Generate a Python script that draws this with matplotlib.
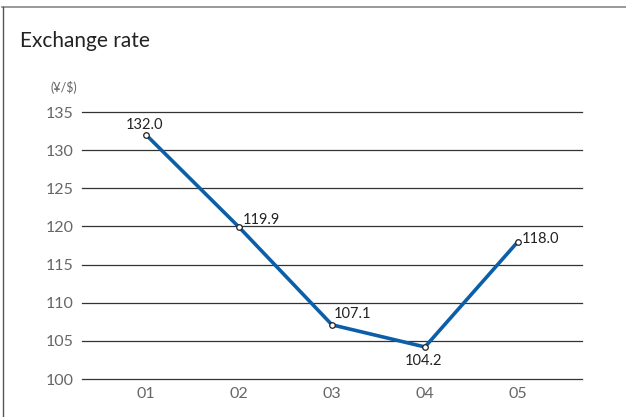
import matplotlib
matplotlib.use("Agg")
import matplotlib.pyplot as plt
from matplotlib.lines import Line2D

years = ["01", "02", "03", "04", "05"]
rates = [132.0, 119.9, 107.1, 104.2, 118.0]
yticks = [100, 105, 110, 115, 120, 125, 130, 135]

plt.rcParams["font.family"] = ["Lato", "DejaVu Sans"]

fig = plt.figure(figsize=(6.26, 4.17), dpi=100)
ax = fig.add_axes([82 / 626, 1 - 379 / 417, 500 / 626, 267 / 417])

x = list(range(len(years)))
ax.plot(x, rates, color="#0b5ea8", lw=2.6, zorder=3, solid_joinstyle="miter")
ax.plot(x, rates, ls="none", marker="o", ms=4, mfc="white", mec="#222222",
        mew=0.9, zorder=4)

ax.set_xlim(-0.69, 4.69)
ax.set_ylim(100, 135)
ax.set_yticks(yticks)
ax.set_xticks(x)
ax.set_xticklabels(years)
ax.tick_params(axis="both", length=0, labelsize=11.5, labelcolor="#666666")
ax.tick_params(axis="y", pad=6)
ax.tick_params(axis="x", pad=6)
for s in ax.spines.values():
    s.set_visible(False)
for t in yticks:
    ax.axhline(t, color="#333333", lw=0.9, zorder=1, clip_on=False)

# value labels
offsets = [(-1, 2, "center", "bottom"), (3, 0, "left", "bottom"),
           (1, 3, "left", "bottom"), (-1, -5, "center", "top"),
           (3, -3, "left", "bottom")]
for xi, v, (dx, dy, ha, va) in zip(x, rates, offsets):
    ax.annotate(f"{v:.1f}", (xi, v), xytext=(dx, dy), textcoords="offset points",
                ha=ha, va=va, fontsize=10.5, color="#222222", zorder=5)

fig.text(20 / 626, 1 - 41 / 417, "Exchange rate", fontsize=15, color="#222222",
         va="center", ha="left")
fig.text(77 / 626, 1 - 87 / 417, "(¥/$)", fontsize=9, color="#666666",
         va="center", ha="right")

# outer frame (top and left edges)
fig.add_artist(Line2D([2 / 626, 1], [1 - 6.5 / 417, 1 - 6.5 / 417],
                      transform=fig.transFigure, color="#888888", lw=1.2))
fig.add_artist(Line2D([2.5 / 626, 2.5 / 626], [0, 1 - 6.5 / 417],
                      transform=fig.transFigure, color="#555555", lw=1.0))

fig.savefig("out.png", dpi=100)
